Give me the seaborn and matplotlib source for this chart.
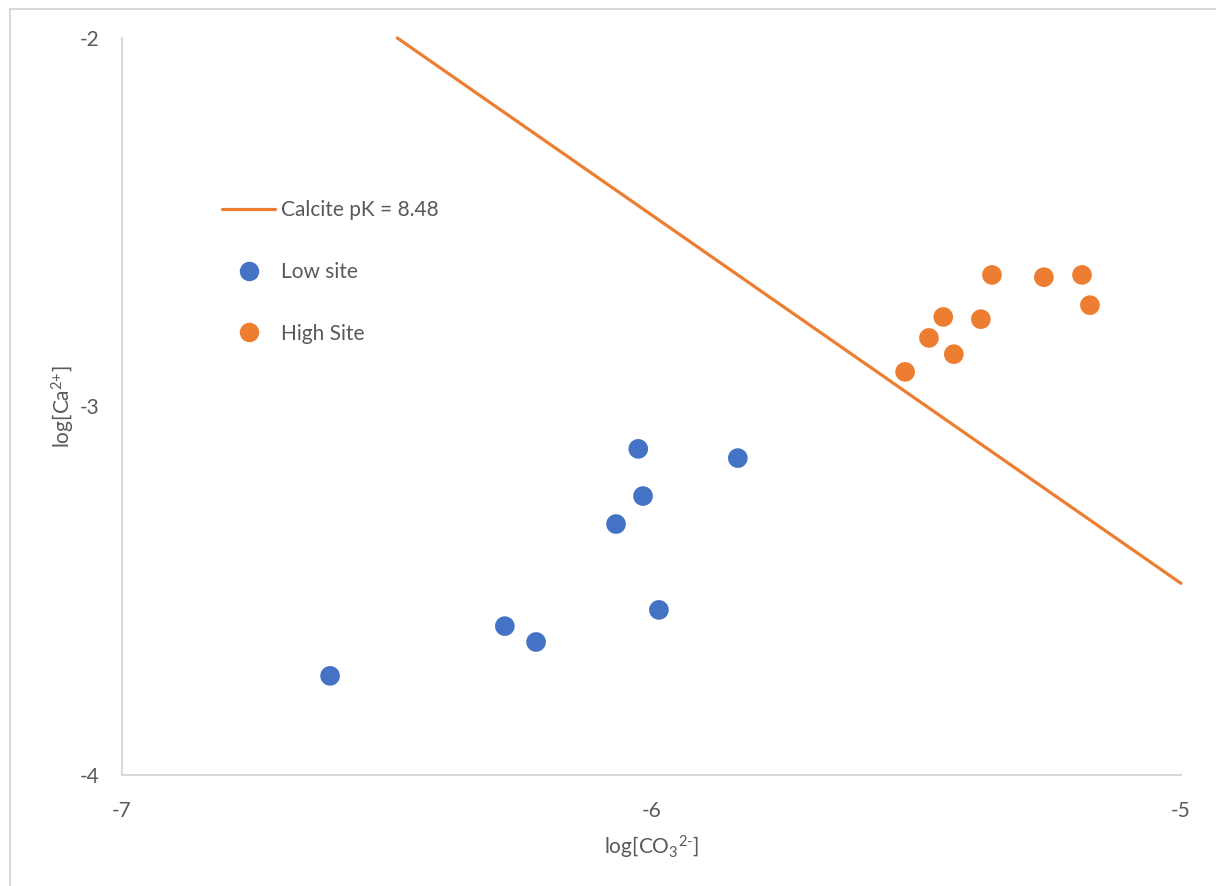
import matplotlib
matplotlib.use("Agg")
import matplotlib.pyplot as plt
from matplotlib.lines import Line2D
import seaborn as sns
import pandas as pd

# Data
low_x = [-6.607, -6.277, -6.218, -6.067, -6.025, -6.016, -5.986, -5.837]
low_y = [-3.731, -3.596, -3.639, -3.319, -3.115, -3.243, -3.552, -3.140]
high_x = [-5.521, -5.476, -5.449, -5.429, -5.378, -5.357, -5.259, -5.187, -5.172]
high_y = [-2.906, -2.814, -2.757, -2.858, -2.763, -2.643, -2.649, -2.643, -2.725]
line_x = [-6.48, -5.0]
line_y = [-2.0, -3.48]
series_names = ["Low site", "High Site"]
line_name = "Calcite pK = 8.48"
x_ticks = [-7, -6, -5]
y_ticks = [-4, -3, -2]

BLUE = "#4472C4"
ORANGE = "#ED7D31"
GRID = "#D9D9D9"
TEXT = "#595959"

sns.set_style("white")
plt.rcParams['font.family'] = ['Lato', 'DejaVu Sans']
plt.rcParams['mathtext.fontset'] = 'custom'
plt.rcParams['mathtext.rm'] = 'Lato'
plt.rcParams['mathtext.it'] = 'Lato'
plt.rcParams['mathtext.bf'] = 'Lato:bold'

df = pd.DataFrame({
    "x": low_x + high_x,
    "y": low_y + high_y,
    "site": [series_names[0]] * len(low_x) + [series_names[1]] * len(high_x),
})
line_df = pd.DataFrame({"x": line_x, "y": line_y})

fig = plt.figure(figsize=(12.16, 8.86), dpi=100)
ax = fig.add_axes([122/1216, 1 - 775/886, (1181-122)/1216, (775-38)/886])

sns.lineplot(data=line_df, x="x", y="y", ax=ax, color=ORANGE, linewidth=2.3,
             legend=False, clip_on=False)
sns.scatterplot(data=df, x="x", y="y", hue="site", palette=[BLUE, ORANGE],
                s=200, edgecolor="none", ax=ax, legend=False, zorder=3)

ax.set_xlim(-7, -5)
ax.set_ylim(-4, -2)
ax.set_xticks(x_ticks)
ax.set_yticks(y_ticks)
ax.set_xticklabels([str(t) for t in x_ticks])
ax.set_yticklabels([str(t) for t in y_ticks])
ax.tick_params(axis='both', length=0, labelsize=15, colors=TEXT)
ax.tick_params(axis='x', pad=19)
ax.tick_params(axis='y', pad=16)

for side in ["top", "right"]:
    ax.spines[side].set_visible(False)
for side in ["left", "bottom"]:
    ax.spines[side].set_color(GRID)
    ax.spines[side].set_linewidth(1.5)

ax.set_xlabel(r"$\mathregular{log[CO_3{}^{2\text{-}}]}$", fontsize=15, color=TEXT, labelpad=9)
ax.set_ylabel(r"$\mathregular{log[Ca^{2{+}}]}$", fontsize=15, color=TEXT, labelpad=2)

handles = [
    Line2D([0], [0], color=ORANGE, linewidth=2.3),
    Line2D([0], [0], marker='o', color='none', markerfacecolor=BLUE,
           markeredgecolor='none', markersize=14),
    Line2D([0], [0], marker='o', color='none', markerfacecolor=ORANGE,
           markeredgecolor='none', markersize=14),
]
leg = ax.legend(handles, [line_name] + series_names, loc="upper left",
                bbox_to_anchor=((214-122)/1059, (775-192)/737), frameon=False,
                fontsize=15, labelspacing=2.0, handlelength=2.55,
                handletextpad=0.25, borderaxespad=0)
for t in leg.get_texts():
    t.set_color(TEXT)

# outer border (top and left visible)
fig.add_artist(Line2D([9.5/1216, 9.5/1216], [0, 1 - 9/886], color=GRID,
                      linewidth=1.5, transform=fig.transFigure))
fig.add_artist(Line2D([9.5/1216, 1], [1 - 9/886, 1 - 9/886], color=GRID,
                      linewidth=1.5, transform=fig.transFigure))

fig.savefig("out.png", dpi=100)
